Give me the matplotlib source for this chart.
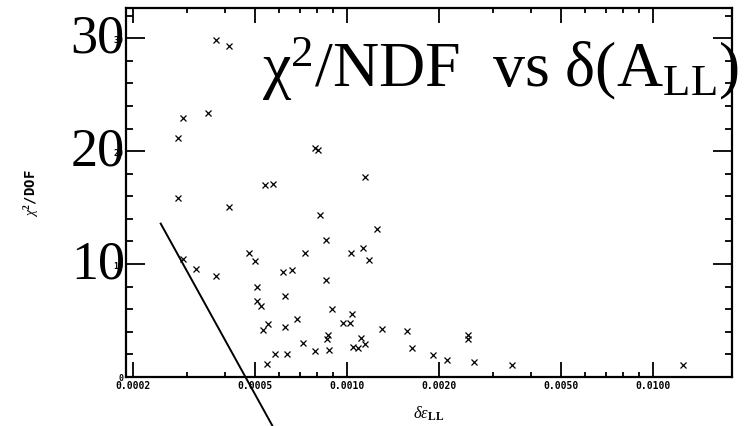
import numpy as np
import matplotlib
matplotlib.use("Agg")
import matplotlib.pyplot as plt
from matplotlib.lines import Line2D
from matplotlib.ticker import FixedLocator, NullFormatter

plt.rcParams['mathtext.fontset'] = 'custom'
plt.rcParams['mathtext.rm'] = 'Liberation Serif'
plt.rcParams['mathtext.it'] = 'Liberation Serif:italic'
plt.rcParams['mathtext.bf'] = 'Liberation Serif:bold'

# error on A_LL (x) and chi2/DOF (y)
delta_all = [
    0.000373, 0.000413, 0.000291, 0.000351, 0.000281, 0.000787, 0.000804,
    0.000540, 0.000572, 0.001146, 0.000281, 0.000410, 0.000817, 0.001252,
    0.000855, 0.001126, 0.001034, 0.001184, 0.000480, 0.000501, 0.000730,
    0.000291, 0.000321, 0.000373, 0.000620, 0.000663, 0.000857, 0.000507,
    0.000628, 0.000507, 0.000523, 0.000892, 0.001037, 0.000973, 0.001024,
    0.000685, 0.000554, 0.000531, 0.000628, 0.001299, 0.001570, 0.001114,
    0.000864, 0.000858, 0.000717, 0.000787, 0.000875, 0.001050, 0.001090,
    0.001146, 0.001632, 0.001916, 0.002124, 0.002478, 0.002478, 0.002593,
    0.003469, 0.01252, 0.000582, 0.000639, 0.000549,
]
chi2_dof = [
    29.88, 29.34, 22.94, 23.38, 21.17, 20.28, 20.10,
    17.00, 17.05, 17.74, 15.81, 15.06, 14.38, 13.11,
    12.09, 11.41, 10.97, 10.36, 10.96, 10.27, 10.96,
    10.41, 9.52, 8.97, 9.27, 9.48, 8.55, 8.00,
    7.15, 6.71, 6.26, 6.02, 5.58, 4.78, 4.78,
    5.14, 4.69, 4.16, 4.41, 4.22, 4.03, 3.44,
    3.76, 3.37, 3.01, 2.33, 2.42, 2.63, 2.61,
    2.92, 2.55, 1.97, 1.52, 3.68, 3.32, 1.36,
    1.02, 1.04, 2.04, 2.04, 1.17,
]

x_major = [0.0002, 0.0005, 0.0010, 0.0020, 0.0050, 0.0100]
x_labels = ['0.0002', '0.0005', '0.0010', '0.0020', '0.0050', '0.0100']
x_minor = [0.0003, 0.0004, 0.0006, 0.0007, 0.0008, 0.0009,
           0.003, 0.004, 0.006, 0.007, 0.008, 0.009]
y_major = [0, 10, 20, 30]
y_big = ['', '10', '20', '30']

fig = plt.figure(figsize=(7.44, 4.27), dpi=100)
ax = fig.add_axes([0.1694, 0.1148, 0.8145, 0.8641])

ax.plot(delta_all, chi2_dof, linestyle='none', marker='x', ms=4.5, mew=0.9, color='black')

ax.set_xscale('log')
ax.set_xlim(0.0001896, 0.01814)
ax.set_ylim(0, 32.68)

ax.xaxis.set_major_locator(FixedLocator(x_major))
ax.set_xticklabels(x_labels, family='DejaVu Sans Mono', fontweight='bold', fontsize=7)
ax.xaxis.set_minor_locator(FixedLocator(x_minor))
ax.xaxis.set_minor_formatter(NullFormatter())
ax.set_yticks(y_major)
ax.set_yticklabels([str(v) for v in y_major], family='DejaVu Sans Mono', fontweight='bold', fontsize=6)
ax.yaxis.set_minor_locator(FixedLocator(np.arange(0, 33, 2)))

ax.tick_params(which='both', direction='in', top=True, right=True, width=1.3, color='black')
ax.tick_params(axis='x', which='major', length=11, pad=2)
ax.tick_params(axis='x', which='minor', length=3.6)
ax.tick_params(axis='y', which='major', length=14, pad=2)
ax.tick_params(axis='y', which='minor', length=5)
for s in ax.spines.values():
    s.set_linewidth(1.6)

ax.set_xlabel(r'$\delta\epsilon_{\mathbf{LL}}$', fontsize=12, labelpad=10)
ax.set_ylabel(r'$\chi^{\mathbf{2}}$/DOF', family='DejaVu Sans Mono', fontweight='bold', fontsize=10, labelpad=52)

# large overlaid numbers on the y axis
for v, lab in zip(y_major, y_big):
    if lab:
        ax.text(-0.002, v, lab, transform=ax.get_yaxis_transform(), ha='right', va='center',
                family='Liberation Serif', fontsize=39, color='black')

# overlaid title
fig.text(262 / 744, 1 - 87 / 427, r'χ$^2$/NDF  vs δ(A$_{\rm LL}$)', family='Liberation Serif',
         fontsize=46, ha='left', va='baseline', color='black')

# hand-drawn pointer line
fig.add_artist(Line2D([0.216, 0.3663], [0.474, 0.0], transform=fig.transFigure, color='black', lw=1.4))

fig.savefig('out.png', dpi=100, facecolor='white')
